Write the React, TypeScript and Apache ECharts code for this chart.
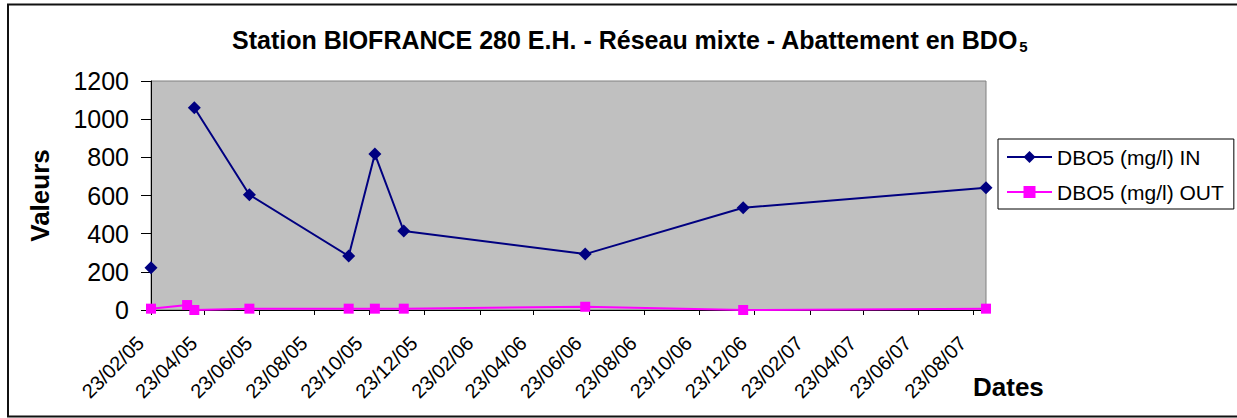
import React, { useEffect, useRef } from 'react';
import * as echarts from 'echarts';

// Sampling dates (dd/mm/yy) and measured values
const sampleDates = ['23/02/05', '04/04/05', '12/04/05', '12/06/05', '30/09/05', '29/10/05', '30/11/05', '19/06/06', '11/12/06', '06/09/07'];
const dboIn: (number | null)[] = [222, null, 1060, 604, 283, 817, 414, 293, 536, 641];
const dboOut: number[] = [7, 26, 0, 7, 7, 7, 7, 17, 0, 7];

// Axis tick labels
const xTickLabels = ['23/02/05', '23/04/05', '23/06/05', '23/08/05', '23/10/05', '23/12/05', '23/02/06', '23/04/06', '23/06/06', '23/08/06', '23/10/06', '23/12/06', '23/02/07', '23/04/07', '23/06/07', '23/08/07'];
const yTicks = [0, 200, 400, 600, 800, 1000, 1200];

const seriesNames = ['DBO5 (mg/l) IN', 'DBO5 (mg/l) OUT'];
const titleMain = 'Station BIOFRANCE 280 E.H. - Réseau mixte - Abattement en BDO';
const titleSub = '5';

const FONT = '"Liberation Sans", Arial, sans-serif';

function parseDate(s: string): number {
  const [d, m, y] = s.split('/').map(Number);
  return new Date(2000 + y, m - 1, d).getTime();
}
function pad(n: number) {
  return n < 10 ? '0' + n : '' + n;
}
function fmt(v: number): string {
  const d = new Date(v);
  return pad(d.getDate()) + '/' + pad(d.getMonth() + 1) + '/' + pad(d.getFullYear() % 100);
}

export default function App() {
  const ref = useRef<HTMLDivElement>(null);
  useEffect(() => {
    if (!ref.current) return;
    const chart = echarts.init(ref.current, undefined, { renderer: 'svg' });
    const xs = sampleDates.map(parseDate);
    const xTicks = xTickLabels.map(parseDate);
    chart.setOption({
      animation: false,
      textStyle: { fontFamily: FONT },
      title: {
        text: '{b|' + titleMain + '}{s|' + titleSub + '}',
        left: 232,
        top: 27,
        padding: 0,
        textStyle: {
          rich: {
            b: { fontSize: 25, fontWeight: 'bold', color: '#000', fontFamily: FONT, verticalAlign: 'top', lineHeight: 25 },
            s: { fontSize: 15, fontWeight: 'bold', color: '#000', fontFamily: FONT, verticalAlign: 'top', padding: [12, 0, 0, 1] },
          },
        },
      },
      legend: {
        orient: 'vertical',
        left: 998,
        top: 139,
        padding: [7, 10, 6, 8],
        itemWidth: 45,
        itemHeight: 15,
        itemGap: 13,
        borderColor: '#000',
        borderWidth: 1,
        backgroundColor: '#fff',
        textStyle: { fontSize: 21, color: '#000', fontFamily: FONT, lineHeight: 22 },
        data: seriesNames,
      },
      grid: {
        left: 151,
        top: 81,
        width: 835,
        height: 229,
        show: true,
        backgroundColor: '#C0C0C0',
        borderColor: '#808080',
        borderWidth: 1,
      },
      xAxis: {
        type: 'value',
        min: xs[0],
        max: xs[xs.length - 1],
        axisLine: { show: true, lineStyle: { color: '#000', width: 1 } },
        axisTick: { show: true, customValues: xTicks, length: 5, lineStyle: { color: '#000' } },
        axisLabel: {
          customValues: xTicks,
          formatter: (v: number) => fmt(v),
          rotate: 45,
          margin: 19,
          padding: [0, 15, 0, 0],
          fontSize: 20,
          color: '#000',
          fontFamily: FONT,
          hideOverlap: false,
        },
        splitLine: { show: false },
      },
      yAxis: {
        type: 'value',
        min: yTicks[0],
        max: yTicks[yTicks.length - 1],
        interval: 200,
        name: 'Valeurs',
        nameLocation: 'middle',
        nameRotate: 90,
        nameGap: 98,
        nameTextStyle: { fontSize: 26, fontWeight: 'bold', color: '#000', fontFamily: FONT },
        axisLine: { show: true, lineStyle: { color: '#000', width: 1 } },
        axisTick: { show: true, length: 10, lineStyle: { color: '#000' } },
        axisLabel: { fontSize: 25, color: '#000', margin: 22, fontFamily: FONT, formatter: (v: number) => String(v) },
        splitLine: { show: false },
      },
      graphic: [
        {
          type: 'rect',
          shape: { x: 8, y: 4.5, width: 1240, height: 412 },
          style: { fill: 'none', stroke: '#111', lineWidth: 2 },
          silent: true,
        },
        {
          type: 'text',
          x: 973,
          y: 387,
          style: {
            text: 'Dates',
            font: 'bold 26px "Liberation Sans", Arial, sans-serif',
            fill: '#000',
            textAlign: 'left',
            textVerticalAlign: 'middle',
          },
        },
      ],
      series: [
        {
          name: seriesNames[0],
          type: 'line',
          data: xs.map((x, i) => [x, dboIn[i]]),
          connectNulls: false,
          symbol: 'diamond',
          symbolSize: 13,
          itemStyle: { color: '#000080' },
          lineStyle: { color: '#000080', width: 2 },
          z: 3,
        },
        {
          name: seriesNames[1],
          type: 'line',
          data: xs.map((x, i) => [x, dboOut[i]]),
          symbol: 'rect',
          symbolSize: 10,
          itemStyle: { color: '#FF00FF' },
          lineStyle: { color: '#FF00FF', width: 2 },
          z: 2,
        },
      ],
    });
    return () => chart.dispose();
  }, []);
  return (
    <div
      ref={ref}
      style={{ position: 'absolute', left: 0, top: 0, width: 1237, height: 418, background: '#fff' }}
    />
  );
}
